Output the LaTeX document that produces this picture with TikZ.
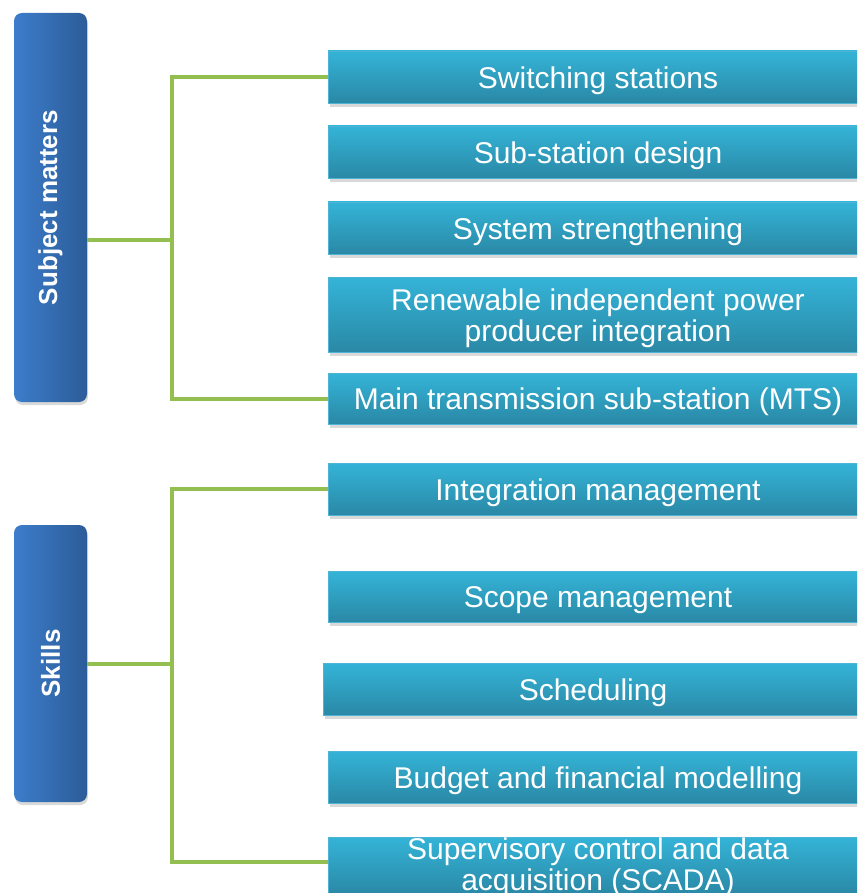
\documentclass[tikz,border=0pt]{standalone}
\usepackage{fontspec}
\usepackage{graphicx}
\setmainfont{Liberation Sans}
\usetikzlibrary{shadows,calc}
\definecolor{lblueL}{RGB}{60,125,203}
\definecolor{lblueR}{RGB}{44,92,152}
\definecolor{cyanT}{RGB}{52,180,216}
\definecolor{cyanB}{RGB}{42,136,165}
\definecolor{cyanE}{RGB}{78,180,214}
\definecolor{grn}{RGB}{146,191,79}
\begin{document}
\begin{tikzpicture}[x=1pt,y=-1pt,
  lbox/.style={rounded corners=8pt, left color=lblueL, right color=lblueR,
    draw=none, minimum width=73pt, inner sep=0pt, text=white,
    font=\fontsize{26}{28}\selectfont\bfseries,
    drop shadow={shadow xshift=1pt, shadow yshift=-3pt, opacity=0.3}},
  rbox/.style={top color=cyanT, bottom color=cyanB, draw=cyanE, line width=0.8pt,
    minimum width=540pt, inner sep=0pt,
    drop shadow={shadow xshift=2pt, shadow yshift=-4pt, opacity=0.3}},
  rtext/.style={inner sep=0pt, text=white, align=center,
    font=\fontsize{30}{31}\selectfont},
  conn/.style={draw=grn, line width=4pt}]
\useasboundingbox (0,0) rectangle (857,893);
\clip (0,0) rectangle (857,893);

% left category boxes
\node[lbox, minimum height=389pt] (sm) at (50.5,207.5) {\rotatebox{90}{Subject matters}};
\node[lbox, minimum height=277pt] (sk) at (50.5,663.5) {\rotatebox{90}{Skills}};

% right item boxes
\node[rbox, minimum height=52pt] (b1) at (598,77) {};
\node[rbox, minimum height=52pt] (b2) at (598,152) {};
\node[rbox, minimum height=52pt] (b3) at (598,228) {};
\node[rbox, minimum height=75pt] (b4) at (598,314.5) {};
\node[rbox, minimum height=51pt] (b5) at (598,398.5) {};
\node[rbox, minimum height=52pt] (b6) at (598,489) {};
\node[rbox, minimum height=51pt] (b7) at (598,596.5) {};
\node[rbox, minimum height=52pt] (b8) at (593,689) {};
\node[rbox, minimum height=52pt] (b9) at (598,777) {};
\node[rbox, minimum height=58pt] (b10) at (598,866) {};

% texts of the item boxes
\node[rtext] (t1) at ($(b1.center)+(0,3.5)$) {Switching stations};
\node[rtext] (t2) at ($(b2.center)+(0,3.5)$) {Sub-station design};
\node[rtext] (t3) at ($(b3.center)+(0,3.5)$) {System strengthening};
\node[rtext] (t4) at ($(b4.center)+(0,3.5)$) {Renewable independent power\\producer integration};
\node[rtext] (t5) at ($(b5.center)+(0,3)$) {Main transmission sub-station (MTS)};
\node[rtext] (t6) at ($(b6.center)+(0,3.5)$) {Integration management};
\node[rtext] (t7) at ($(b7.center)+(0,3.5)$) {Scope management};
\node[rtext] (t8) at ($(b8.center)+(0,3.5)$) {Scheduling};
\node[rtext] (t9) at ($(b9.center)+(0,3.5)$) {Budget and financial modelling};
\node[rtext] (t10) at ($(b10.center)+(0,1.5)$) {Supervisory control and data\\acquisition (SCADA)};

% connectors
\coordinate (j1) at (172,240);
\coordinate (j2) at (172,663.5);
\coordinate (e10) at ($(b10.west)+(0,-4)$);
\draw[conn] (sm.east |- j1) -- (j1);
\draw[conn] (b1.west) -- (j1 |- b1.west) -- (j1 |- b5.west) -- (b5.west);
\draw[conn] (sk.east) -- (j2);
\draw[conn] (b6.west) -- (j2 |- b6.west) -- (j2 |- e10) -- (e10);
\end{tikzpicture}
\end{document}
